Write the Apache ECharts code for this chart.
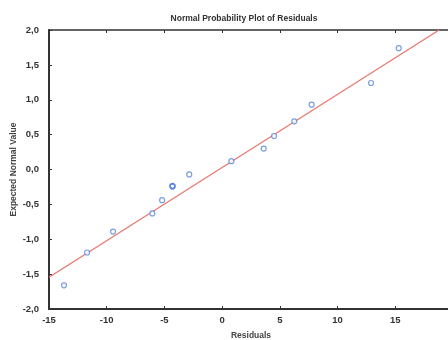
<!DOCTYPE html>
<html>
<head>
<meta charset="utf-8">
<script src="https://cdn.jsdelivr.net/npm/echarts@6/dist/echarts.min.js"></script>
<style>
  html, body { margin: 0; padding: 0; background: #fff; }
  #chart { width: 448px; height: 340px; }
</style>
</head>
<body>
<div id="chart"></div>
<script>
// Residuals and their expected normal scores
const residuals = [-13.7, -11.7, -9.45, -6.05, -5.2, -4.3, -2.85, 0.8, 3.6, 4.5, 6.25, 7.75, 12.9, 15.3];
const expected  = [-1.66, -1.19, -0.89, -0.63, -0.44, -0.24, -0.07, 0.12, 0.30, 0.48, 0.69, 0.93, 1.24, 1.74];
// Reference line endpoints
const fitX = [-15, 18.8];
const fitY = [-1.545, 2.0];
// Axis ticks
const xTicks = [-15, -10, -5, 0, 5, 10, 15];
const yTicks = [-2.0, -1.5, -1.0, -0.5, 0.0, 0.5, 1.0, 1.5, 2.0];

const boldPoint = -4.3;
const font = '"Liberation Sans", Arial, sans-serif';

const pts = residuals.map((x, i) => ({
  value: [x, expected[i]],
  itemStyle: x === boldPoint ? { borderWidth: 1.8, borderColor: '#2f64d8' } : undefined
}));

const chart = echarts.init(document.getElementById('chart'));
chart.setOption({
  animation: false,
  backgroundColor: '#fff',
  title: {
    text: 'Normal Probability Plot of Residuals',
    left: 239, top: 9, textAlign: 'center',
    textStyle: { fontFamily: font, fontSize: 8.5, fontWeight: 'bold', color: '#333' }
  },
  grid: {
    left: 49, top: 30, bottom: 31, right: -5,
    containLabel: false, outerBoundsMode: 'none',
    show: false
  },
  xAxis: [
    {
      type: 'value', min: xTicks[0], max: 20, interval: 5,
      name: 'Residuals', nameLocation: 'middle', nameGap: 22, nameMoveOverlap: false,
      nameTextStyle: { fontFamily: font, fontSize: 8.5, fontWeight: 'bold', color: '#444' },
      axisLine: { show: true, onZero: false, lineStyle: { color: '#333', width: 2 } },
      axisTick: { show: true, inside: true, length: 3, lineStyle: { color: '#333' } },
      axisLabel: {
        fontFamily: font, fontSize: 9.5, fontWeight: 'bold', color: '#333', margin: 6,
        formatter: v => (xTicks.indexOf(v) >= 0 ? String(v) : '')
      },
      splitLine: { show: false }
    },
    {
      // top frame edge
      type: 'value', position: 'top', min: xTicks[0], max: 20, interval: 5,
      axisLine: { show: true, onZero: false, lineStyle: { color: '#333', width: 1.5 } },
      axisTick: { show: true, inside: true, length: 3, lineStyle: { color: '#333' } },
      axisLabel: { show: false },
      splitLine: { show: false }
    }
  ],
  yAxis: {
    type: 'value', min: yTicks[0], max: yTicks[yTicks.length - 1], interval: 0.5,
    name: 'Expected Normal Value', nameLocation: 'middle', nameGap: 31, nameMoveOverlap: false,
    nameTextStyle: { fontFamily: font, fontSize: 8.5, fontWeight: 'bold', color: '#444' },
    axisLine: { show: true, onZero: false, lineStyle: { color: '#333', width: 2 } },
    axisTick: { show: true, inside: true, length: 3, lineStyle: { color: '#333' } },
    axisLabel: {
      fontFamily: font, fontSize: 9.5, fontWeight: 'bold', color: '#333', margin: 10,
      formatter: v => v.toFixed(1).replace('.', ',')
    },
    splitLine: { show: false }
  },
  series: [
    {
      type: 'line',
      data: fitX.map((x, i) => [x, fitY[i]]),
      symbol: 'none',
      lineStyle: { color: '#e8786e', width: 1.3 },
      silent: true, z: 2
    },
    {
      type: 'scatter',
      data: pts,
      symbol: 'circle', symbolSize: 5,
      itemStyle: { color: '#fff', borderColor: '#5a86dc', borderWidth: 1.2 },
      emphasis: { disabled: true },
      z: 3
    }
  ]
});
</script>
</body>
</html>
